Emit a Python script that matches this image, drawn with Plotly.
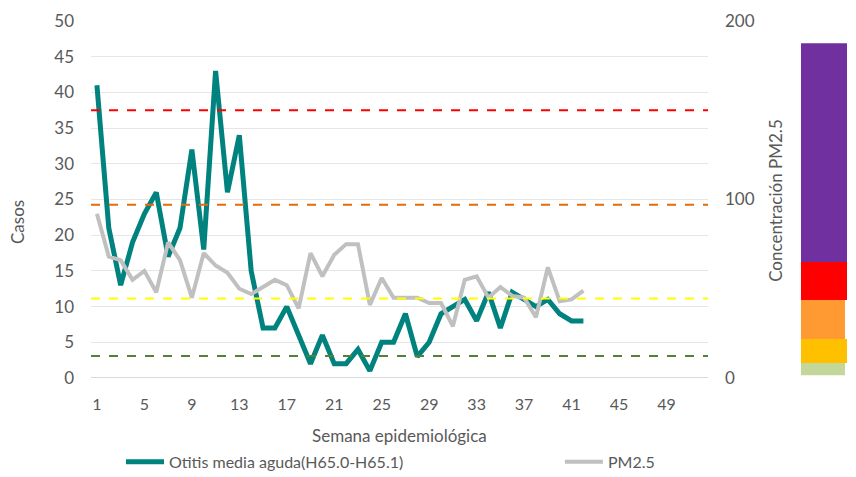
import plotly.graph_objects as go

# ---- data ----
weeks = list(range(1, 43))
otitis = [41, 21, 13, 19, 23, 26, 17, 21, 32, 18,
          43, 26, 34, 15, 7, 7, 10, 6, 2, 6,
          2, 2, 4, 1, 5, 5, 9, 3, 5, 9,
          10, 11, 8, 12, 7, 12, 11, 10, 11, 9,
          8, 8]
pm25 = [92, 68, 66, 55, 60, 48, 76, 66, 45, 70,
        63, 59, 50, 47, 51, 55, 52, 39, 70, 57,
        69, 75, 75, 41, 56, 45, 45, 45, 42, 42,
        29, 55, 57, 45, 51, 46, 45, 34, 62, 43,
        44, 49]
x_tick_labels = [1, 5, 9, 13, 17, 21, 25, 29, 33, 37, 41, 45, 49]
left_ticks = [0, 5, 10, 15, 20, 25, 30, 35, 40, 45, 50]
right_ticks = [0, 100, 200]
threshold_values = [150, 97, 44.5, 12.3]
threshold_colors = ["#FF0000", "#E46C0A", "#FFFF00", "#548235"]
# decorative colour scale (in PM2.5 units, bottom/top)
band_bottoms = [65, 43.7, 21.8, 8.4, 1.5]
band_tops = [187.6, 65, 43.7, 21.8, 8.4]
band_colors = ["#7030A0", "#FF0000", "#FF9A33", "#FFC000", "#C4D79B"]
band_right = [1.2253, 1.2253, 1.222, 1.2253, 1.222]

FONT = "Lato"
GRAY = "#595959"

fig = go.Figure()
fig.add_trace(go.Scatter(
    x=weeks, y=otitis, mode="lines", name="Otitis media aguda(H65.0-H65.1)",
    line=dict(color="#00827F", width=5), yaxis="y", legend="legend"))
fig.add_trace(go.Scatter(
    x=weeks, y=pm25, mode="lines", name="PM2.5",
    line=dict(color="#C0C0C0", width=4), yaxis="y2", legend="legend2"))

shapes = []
for v, c in zip(threshold_values, threshold_colors):
    shapes.append(dict(type="line", xref="paper", yref="y2", x0=0, x1=1, y0=v, y1=v,
                       line=dict(color=c, width=2, dash="dash"), layer="above"))
for b, t, c, r in zip(band_bottoms, band_tops, band_colors, band_right):
    shapes.append(dict(type="rect", xref="paper", yref="y2", x0=1.1507, x1=r, y0=b, y1=t,
                       fillcolor=c, line=dict(width=0)))

legend_common = dict(orientation="h", xanchor="left", yanchor="middle", y=-0.235,
                     itemwidth=38,
                     font=dict(size=16, color=GRAY), bgcolor="rgba(0,0,0,0)")

fig.update_layout(
    width=848, height=469,
    margin=dict(l=83, r=148, t=13, b=99, autoexpand=False),
    paper_bgcolor="white", plot_bgcolor="white",
    font=dict(family=FONT, color=GRAY, size=16),
    showlegend=True,
    legend=dict(x=0.0486, **legend_common),
    legend2=dict(x=0.760, **legend_common),
    xaxis=dict(range=[0.5, 52.5], tickmode="array", tickvals=x_tick_labels,
               ticktext=[str(t) for t in x_tick_labels], showgrid=False, zeroline=False,
               showline=False, ticks="", tickfont=dict(size=16, color=GRAY),
               ticklabelstandoff=15, automargin=False),
    yaxis=dict(range=[0, 50], tickmode="array", tickvals=left_ticks, showgrid=True,
               gridcolor="#E6E6E6", gridwidth=1, zeroline=False, showline=False,
               ticks="", tickfont=dict(size=17, color=GRAY), ticklabelstandoff=16,
               automargin=False),
    yaxis2=dict(range=[0, 200], tickmode="array", tickvals=right_ticks, overlaying="y",
                side="right", showgrid=False, zeroline=False, showline=False, ticks="",
                tickfont=dict(size=17, color=GRAY), ticklabelstandoff=16, automargin=False),
    shapes=shapes + [dict(type="line", xref="paper", yref="y", x0=0, x1=1, y0=0, y1=0,
                          line=dict(color="#D9D9D9", width=2), layer="below")],
    annotations=[
        dict(text="Casos", xref="paper", yref="paper", x=-0.1183, y=0.437, textangle=-90,
             showarrow=False, font=dict(size=17, color=GRAY), xanchor="center", yanchor="middle"),
        dict(text="Concentración PM2.5", xref="paper", yref="paper", x=1.110, y=0.4986,
             textangle=-90, showarrow=False, font=dict(size=17, color=GRAY),
             xanchor="center", yanchor="middle"),
        dict(text="Semana epidemiológica", xref="paper", yref="paper", x=0.5, y=-0.16,
             showarrow=False, font=dict(size=17, color=GRAY), xanchor="center", yanchor="middle"),
    ],
)

fig.write_html("out.html")
